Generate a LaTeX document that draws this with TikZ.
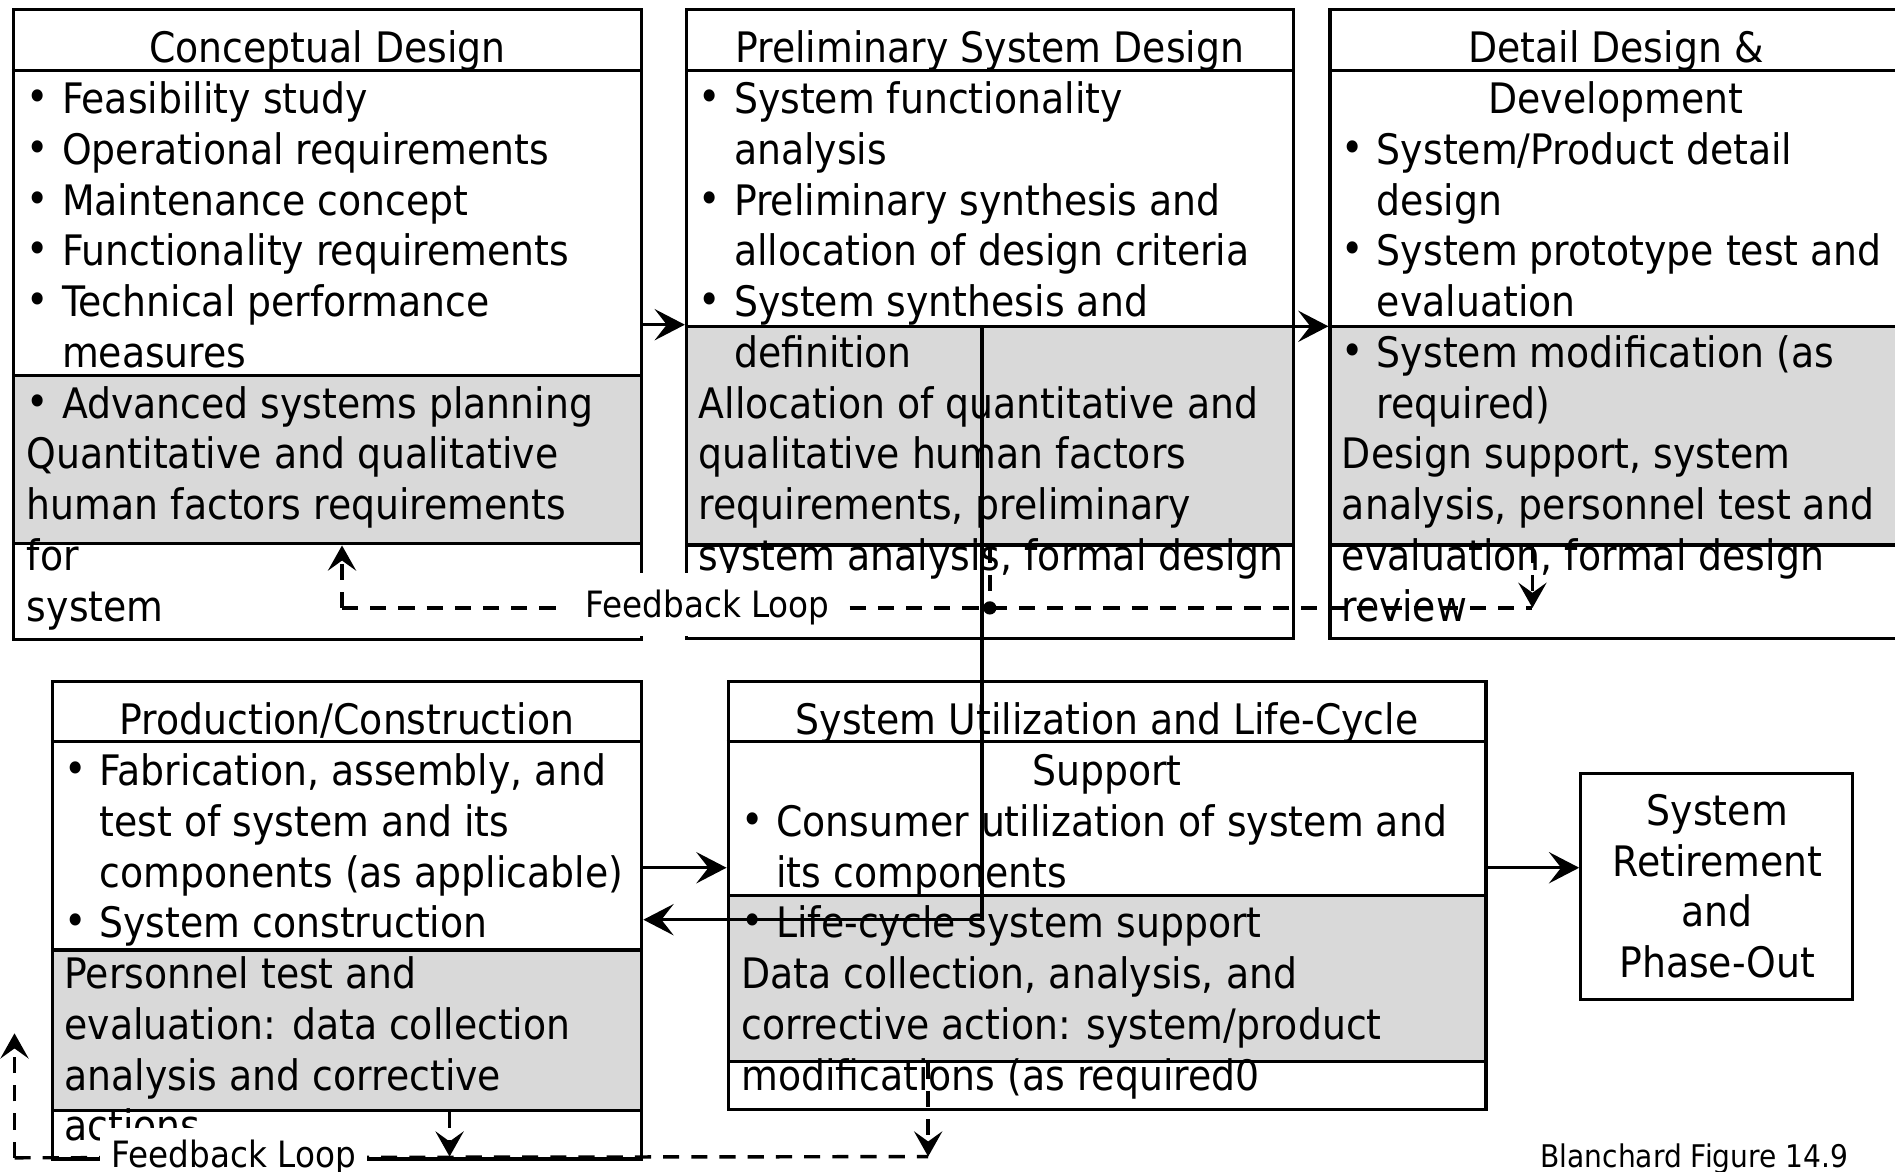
\documentclass[tikz,border=0pt]{standalone}
\usepackage{graphicx}
\usepackage{fontspec}
\setmainfont{DejaVu Sans}[FakeStretch=0.9]
\usetikzlibrary{arrows.meta,fit}
\definecolor{boxgray}{RGB}{217,217,217}
\newcommand{\bodyfont}{\fontsize{20.85pt}{25.2pt}\selectfont}
\newcommand{\itm}{\par\hangindent=17.4pt\hangafter=1\noindent\makebox[17.4pt][l]{\raisebox{0.05em}{•}}\ignorespaces}
\newcommand{\pln}{\par\noindent\ignorespaces}
\newcommand{\blk}[1]{\parbox[t]{520pt}{\bodyfont\raggedright\let\\\newline\parskip=0pt\parindent=0pt #1}}
\begin{document}
\begin{tikzpicture}[x=0.6pt,y=-0.6pt,
  box/.style={draw, line width=1.6pt, inner sep=0pt},
  gbox/.style={box, fill=boxgray},
  txt/.style={anchor=base west, inner sep=0pt},
  ttl/.style={anchor=base, inner sep=0pt, font=\bodyfont},
  hline/.style={line width=1.6pt},
  arr/.style={line width=1.6pt, -{Stealth[length=15pt,width=15.5pt,inset=6pt]}},
  dsh/.style={line width=1.7pt, dash pattern=on 8pt off 6pt},
  darr/.style={dsh, -{Stealth[length=12.5pt,width=14pt,inset=5pt]}},
  fbl/.style={fill=white, inner ysep=0pt, font=\fontsize{18pt}{21pt}\selectfont, anchor=base}]
\useasboundingbox (0,0) rectangle (1568,969);
\fill[white] (0,0) rectangle (1568,969);

% gray bands
\node[gbox, fit={(11,311) (531,450)}] (cdg) {};
\node[gbox, fit={(568,270) (1070,451)}] (psg) {};
\node[gbox, fit={(1100.5,270) (1573,451)}] (ddg) {};
\node[gbox, fit={(43.5,786) (531,919)}] (pcg) {};
\node[gbox, fit={(602.5,741) (1229.5,878)}] (sug) {};

% boxes
\node[box, fit={(11,8) (531,529)}] (cd) {};
\node[box, fit={(568,8) (1070,528)}] (ps) {};
\node[box, fit={(1100.5,8) (1573,528)}] (dd) {};
\node[box, fit={(43.5,564) (531,959)}] (pc) {};
\node[box, fit={(602.5,564) (1229.5,918)}] (su) {};
\node[box, fit={(1308,640) (1532.5,827)}] (rt) {};

% header lines
\coordinate (h1) at (0,58.5);
\coordinate (h2) at (0,613.5);
\draw[hline] (cd.west |- h1) -- (cd.east |- h1);
\draw[hline] (ps.west |- h1) -- (ps.east |- h1);
\draw[hline] (dd.west |- h1) -- (dd.east |- h1);
\draw[hline] (pc.west |- h2) -- (pc.east |- h2);
\draw[hline] (su.west |- h2) -- (su.east |- h2);

% texts
\node[ttl] (cdt) at (271,52) {Conceptual Design};
\node[txt] (cdb) at (22,94) {\blk{\itm Feasibility study\itm Operational requirements\itm Maintenance concept\itm Functionality requirements\itm Technical performance\\measures\itm Advanced systems planning\pln Quantitative and qualitative\\human factors requirements\\for\\system}};

\node[ttl] (pst) at (819,52) {Preliminary System Design};
\node[txt] (psb) at (578,94) {\blk{\itm System functionality\\analysis\itm Preliminary synthesis and\\allocation of design criteria\itm System synthesis and\\definition\pln Allocation of quantitative and\\qualitative human factors\\requirements, preliminary\\system analysis, formal design}};

\node[ttl] (ddt) at (1337,52) {Detail Design \&};
\node[ttl] (ddt2) at (1337,94) {Development};
\node[txt] (ddb) at (1110,136) {\blk{\itm System/Product detail\\design\itm System prototype test and\\evaluation\itm System modification (as\\required)\pln Design support, system\\analysis, personnel test and\\evaluation, formal design\\review}};

\node[ttl] (pct) at (287,608) {Production/Construction};
\node[txt] (pcb) at (53,650) {\blk{\itm Fabrication, assembly, and\\test of system and its\\components (as applicable)\itm System construction\pln Personnel test and\\evaluation: data collection\\analysis and corrective\\actions}};

\node[ttl] (sut) at (916,608) {System Utilization and Life-Cycle};
\node[ttl] (sut2) at (916,650) {Support};
\node[txt] (sub) at (613,692) {\blk{\itm Consumer utilization of system and\\its components\itm Life-cycle system support\pln Data collection, analysis, and\\corrective action: system/product\\modifications (as required0}};

\node[ttl] (rtt) at (1421,683) {\parbox[t]{200pt}{\centering\bodyfont System\\Retirement\\and\\Phase-Out}};

% solid connectors
\coordinate (jn) at (812.5,270);
\coordinate (jn2) at (812.5,761);
\coordinate (yb) at (0,718);
\draw[arr] (cd.east |- psg.north) -- (ps.west |- psg.north);
\draw[arr] (jn) -- (dd.west |- jn);
\draw[arr] (jn) -- (jn2) -- (pc.east |- jn2);
\draw[arr] (pc.east |- yb) -- (su.west |- yb);
\draw[arr] (su.east |- yb) -- (rt.west |- yb);

% top feedback loop
\coordinate (fa) at (283,503);
\coordinate (fb) at (1268,503);
\coordinate (fd) at (819,503);
\draw[dsh] (fa) -- (fb);
\draw[darr] (fa) -- (fa |- cdg.south);
\draw[dsh] (psg.south -| fd) -- (fd);
\draw[darr] (ddg.south -| fb) -- (fb);
\fill (fd) circle[radius=3.3pt];

% bottom feedback loop
\coordinate (fc) at (12,958);
\coordinate (fcu) at (12,855);
\coordinate (fe) at (372,957);
\coordinate (ff) at (768,957);
\draw[dsh] (fc) -- (ff);
\draw[darr] (fc) -- (fcu);
\draw[darr] (pcg.south -| fe) -- (fe);
\draw[darr] (sug.south -| ff) -- (ff);

% labels
\node[fbl, text height=22.2pt, text depth=9pt, inner xsep=9.3pt] (fb1) at (585.5,511) {Feedback Loop};
\node[fbl, text height=19.8pt, text depth=12pt, inner xsep=5.7pt] (fb2) at (193.5,966) {Feedback Loop};
\node[anchor=base, inner sep=0pt, font=\fontsize{15.5pt}{18pt}\selectfont] (cap) at (1402,966) {Blanchard Figure 14.9};
\end{tikzpicture}
\end{document}
